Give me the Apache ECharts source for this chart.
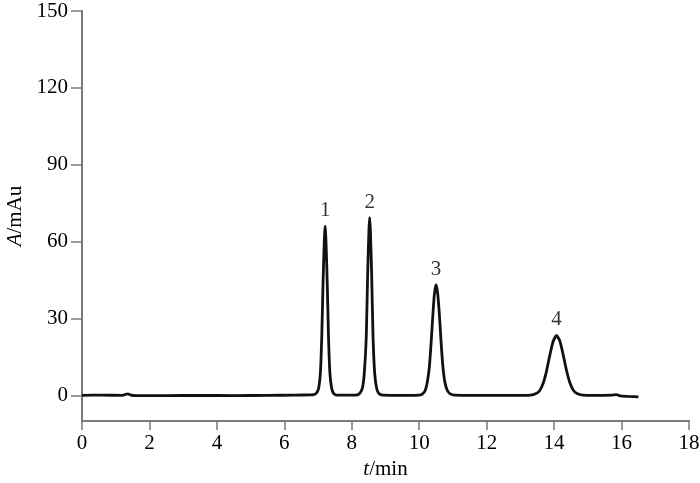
<!DOCTYPE html>
<html>
<head>
<meta charset="utf-8">
<script src="https://cdn.jsdelivr.net/npm/echarts@6/dist/echarts.min.js"></script>
<style>
html, body { margin: 0; padding: 0; background: #fff; }
#main { width: 700px; height: 483px; }
</style>
</head>
<body>
<div id="main"></div>
<script>
// chromatogram trace, [t/min, A/mAu]
var baseline1 = [[0, 0], [0.6, 0.1], [1.2, 0], [1.3, 0.4], [1.36, 0.6], [1.45, 0.1], [1.6, -0.1], [2.5, -0.1], [3.5, 0], [4.5, -0.1], [5.5, 0], [6.3, 0.1], [6.8, 0.2]];
var peak1 = [[6.88, 0.3], [6.96, 1], [7.02, 3], [7.07, 9], [7.11, 23], [7.15, 45], [7.19, 62], [7.21, 66], [7.23, 62], [7.27, 45], [7.31, 23], [7.35, 9], [7.4, 3], [7.46, 0.8], [7.56, 0.1]];
var peak2 = [[8.1, 0.1], [8.22, 0.6], [8.31, 2.6], [8.37, 8.5], [8.43, 23], [8.47, 47], [8.51, 65], [8.53, 69.4], [8.55, 65], [8.59, 47], [8.63, 23], [8.68, 8.5], [8.74, 2.6], [8.81, 0.6], [8.92, 0.1]];
var peak3 = [[9.6, 0], [10.0, 0.1], [10.1, 0.6], [10.18, 2], [10.24, 5.2], [10.3, 11], [10.35, 20], [10.4, 30.5], [10.45, 39.5], [10.5, 43.2], [10.55, 39.5], [10.6, 31], [10.65, 20.5], [10.7, 11.5], [10.76, 5.2], [10.83, 2], [10.92, 0.6], [11.05, 0.1]];
var peak4 = [[12.0, 0], [13.0, 0], [13.3, 0.1], [13.45, 0.6], [13.57, 1.8], [13.67, 4.5], [13.77, 9.2], [13.87, 15.5], [13.97, 21], [14.07, 23.4], [14.17, 21.2], [14.27, 15.8], [14.37, 9.6], [14.47, 4.8], [14.57, 2], [14.68, 0.7], [14.85, 0.1]];
var baseline2 = [[15.2, 0], [15.7, 0.1], [15.85, 0.3], [15.95, -0.2], [16.2, -0.4], [16.5, -0.6]];

// peak numbers
var peakNames = ['1', '2', '3', '4'];
var peakTimes = [7.21, 8.53, 10.5, 14.07];
var peakHeights = [66, 69.4, 43.2, 23.4];

var yTicks = [0, 30, 60, 90, 120, 150];

var trace = [].concat(baseline1, peak1, peak2, peak3, peak4, baseline2);
var peakPoints = [];
for (var i = 0; i < peakNames.length; i++) {
	peakPoints.push({ name: peakNames[i], value: [peakTimes[i], peakHeights[i]] });
}

var font = '"Liberation Serif", "DejaVu Serif", serif';
var chart = echarts.init(document.getElementById('main'));

chart.setOption({
	animation: false,
	backgroundColor: '#fff',
	grid: {
		left: 82,
		right: 11,
		top: 11,
		bottom: 62,
		containLabel: false,
		outerBoundsMode: 'none'
	},
	xAxis: {
		type: 'value',
		min: 0,
		max: 18,
		interval: 2,
		name: '{i|t}/min',
		nameLocation: 'middle',
		nameGap: 33,
		nameTextStyle: {
			fontFamily: font,
			fontSize: 21,
			color: '#000',
			rich: {
				i: { fontFamily: font, fontSize: 21, fontStyle: 'italic', color: '#000' }
			}
		},
		axisLine: { onZero: false, lineStyle: { color: '#7a7a7a', width: 2 } },
		axisTick: { length: 9, lineStyle: { color: '#7a7a7a', width: 1.5 } },
		axisLabel: { margin: 12, fontFamily: font, fontSize: 21, color: '#000' },
		splitLine: { show: false }
	},
	yAxis: {
		type: 'value',
		min: -10,
		max: 150,
		name: '{i|A}/mAu',
		nameLocation: 'middle',
		nameRotate: 90,
		nameGap: 54,
		nameTextStyle: {
			fontFamily: font,
			fontSize: 21,
			color: '#000',
			rich: {
				i: { fontFamily: font, fontSize: 21, fontStyle: 'italic', color: '#000' }
			}
		},
		axisLine: { show: true, onZero: false, lineStyle: { color: '#7a7a7a', width: 2 } },
		axisTick: { show: true, length: 11, customValues: yTicks, lineStyle: { color: '#7a7a7a', width: 1.5 } },
		axisLabel: { margin: 14, fontFamily: font, fontSize: 21, color: '#000', customValues: yTicks },
		splitLine: { show: false }
	},
	series: [{
		name: 'trace',
		type: 'line',
		data: trace,
		symbol: 'none',
		smooth: 0.2,
		lineStyle: { color: '#111', width: 2.8 }
	}, {
		name: 'peaks',
		type: 'scatter',
		data: peakPoints,
		symbolSize: 0,
		label: {
			show: true,
			position: 'top',
			distance: 5,
			formatter: '{b}',
			fontFamily: font,
			fontSize: 21,
			color: '#000'
		}
	}]
});
</script>
</body>
</html>
